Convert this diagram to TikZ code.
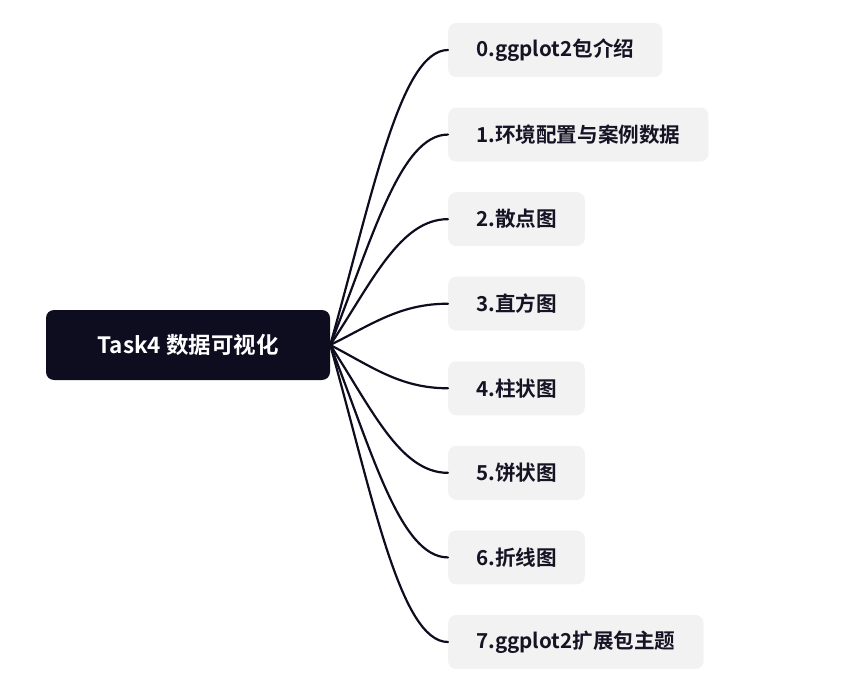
\documentclass[tikz,border=0pt]{standalone}
\usepackage{fontspec}
\setmainfont{Noto Sans CJK SC}[BoldFont={* Bold}]
\usepackage{tikz}

\definecolor{rootcol}{RGB}{14,12,31}
\definecolor{leafcol}{RGB}{242,242,242}
\definecolor{textcol}{RGB}{22,20,36}

\begin{document}
\begin{tikzpicture}[
        x=1pt, y=-1pt,
        line cap=round,
        line join=round,
        rootbox/.style={fill=rootcol, text=white, rounded corners=8pt,
            minimum width=284pt, minimum height=70pt,
            font=\bfseries\fontsize{22.5}{26}\selectfont},
        leaf/.style={fill=leafcol, text=textcol, rounded corners=8pt,
            inner xsep=28pt, minimum height=54pt, anchor=west,
            font=\bfseries\fontsize{20.6}{24}\selectfont},
        branch/.style={draw=rootcol, line width=2.2pt}
    ]
        \useasboundingbox (0,0) rectangle (845,700);

        \node[rootbox] (root) at (188,345) {Task4 数据可视化};

        \foreach \i/\t in {0/{0.ggplot2包介绍},
                           1/{1.环境配置与案例数据},
                           2/{2.散点图},
                           3/{3.直方图},
                           4/{4.柱状图},
                           5/{5.饼状图},
                           6/{6.折线图},
                           7/{7.ggplot2扩展包主题}}{
            \pgfmathsetmacro{\yy}{50+84.57*\i}
            \pgfmathsetmacro{\ym}{(345+\yy)/2}
            \node[leaf] (c\i) at (448,\yy) {\t};
            \draw[branch] (root.east) .. controls (372,\ym) and (400,\yy) .. (c\i.west);
        }
    \end{tikzpicture}
\end{document}
